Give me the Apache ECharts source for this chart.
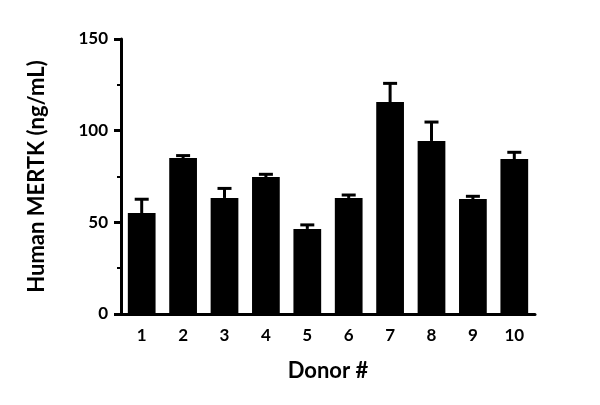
<!DOCTYPE html>
<html>
<head>
<meta charset="utf-8">
<script src="https://cdn.jsdelivr.net/npm/echarts@6/dist/echarts.min.js"></script>
<style>html,body{margin:0;padding:0;background:#fff}#c{width:600px;height:405px}</style>
</head>
<body>
<div id="c"></div>
<script>
var categories = ['1','2','3','4','5','6','7','8','9','10'];
var means = [55.1, 85.1, 63.3, 74.7, 46.4, 63.3, 115.6, 94.4, 62.7, 84.5];
var errors = [7.5, 1.3, 5.2, 1.5, 2.2, 1.6, 10.2, 10.3, 1.5, 3.7];
var yTicks = [0, 50, 100, 150];

var FONT = 'Lato';
var chart = echarts.init(document.getElementById('c'), null, {renderer: 'canvas'});
var errData = means.map(function (m, i) { return [i, m, m + errors[i]]; });

chart.setOption({
  animation: false,
  backgroundColor: '#fff',
  grid: {left: 121, right: 65, top: 39, bottom: 91, containLabel: false},
  xAxis: {
    type: 'category',
    data: categories,
    name: 'Donor #',
    nameLocation: 'middle',
    nameGap: 46,
    nameTextStyle: {fontFamily: FONT, fontWeight: 'bold', fontSize: 22, color: '#000'},
    axisLine: {lineStyle: {color: '#000', width: 3}},
    axisTick: {alignWithLabel: true, length: 7, lineStyle: {color: '#000', width: 3}},
    axisLabel: {fontFamily: FONT, fontWeight: 'bold', fontSize: 17, color: '#000', margin: 13},
    splitLine: {show: false}
  },
  yAxis: {
    type: 'value',
    min: yTicks[0],
    max: yTicks[yTicks.length - 1],
    interval: 50,
    name: 'Human MERTK (ng/mL)',
    nameLocation: 'middle',
    nameGap: 73,
    nameTextStyle: {fontFamily: FONT, fontWeight: 'bold', fontSize: 22, color: '#000'},
    axisLine: {show: true, lineStyle: {color: '#000', width: 3}},
    axisTick: {show: true, length: 7, lineStyle: {color: '#000', width: 3}},
    minorTick: {show: true, splitNumber: 2, length: 4, lineStyle: {color: '#000', width: 2}},
    axisLabel: {fontFamily: FONT, fontWeight: 'bold', fontSize: 17, color: '#000', margin: 13},
    splitLine: {show: false}
  },
  series: [
    {
      type: 'bar',
      data: means,
      barWidth: '67%',
      itemStyle: {color: '#000'},
      z: 2
    },
    {
      type: 'custom',
      data: errData,
      z: 3,
      renderItem: function (params, api) {
        var x = api.value(0);
        var lo = api.coord([x, api.value(1)]);
        var hi = api.coord([x, api.value(2)]);
        var half = 7;
        return {
          type: 'group',
          children: [
            {type: 'line', shape: {x1: lo[0], y1: lo[1], x2: hi[0], y2: hi[1]}, style: {stroke: '#000', lineWidth: 3}},
            {type: 'line', shape: {x1: hi[0] - half, y1: hi[1], x2: hi[0] + half, y2: hi[1]}, style: {stroke: '#000', lineWidth: 3}}
          ]
        };
      }
    }
  ]
});
</script>
</body>
</html>
